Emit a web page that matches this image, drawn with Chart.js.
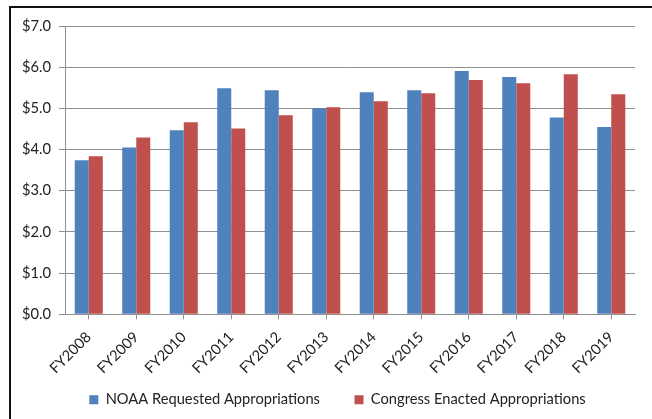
<!DOCTYPE html>
<html>
<head>
<meta charset="utf-8">
<script src="https://cdn.jsdelivr.net/npm/chart.js@4"></script>
<style>
  html, body { margin: 0; padding: 0; background: #fff; }
  #wrap { position: relative; width: 652px; height: 419px; overflow: hidden; }
  #frame { position: absolute; left: 9px; top: 6px; width: 700px; height: 500px;
           border-left: 2px solid #111; border-top: 2px solid #111; }
  canvas { position: absolute; left: 0; top: 0; }
</style>
</head>
<body>
<div id="wrap">
  <div id="frame"></div>
  <canvas id="myChart" width="652" height="419"></canvas>
</div>
<script>
// fiscal years on the x axis
const years = ['FY2008', 'FY2009', 'FY2010', 'FY2011', 'FY2012', 'FY2013',
  'FY2014', 'FY2015', 'FY2016', 'FY2017', 'FY2018', 'FY2019']
// billions of dollars
const requested = [3.74, 4.05, 4.47, 5.49, 5.44, 5.0, 5.39, 5.44, 5.91, 5.76, 4.78, 4.55]
const enacted = [3.84, 4.29, 4.66, 4.51, 4.83, 5.03, 5.17, 5.37, 5.69, 5.61, 5.83, 5.34]
const yTicks = [0, 1, 2, 3, 4, 5, 6, 7]

const font = { family: 'Lato, Liberation Sans, sans-serif', size: 14.7 }
const textColor = '#222'
const gridColor = '#8f8f8f'

// nudge the legend right so it sits where the original has it
const legendShift = {
  id: 'legendShift',
  afterLayout: (chart) => {
    chart.legend.left += 20
    chart.legend.right += 20
  },
}

const data = {
  labels: years,
  datasets: [
    {
      label: 'NOAA Requested Appropriations',
      data: requested,
      backgroundColor: '#4F81BD',
      categoryPercentage: 0.59,
      barPercentage: 1.0,
    },
    {
      label: 'Congress Enacted Appropriations',
      data: enacted,
      backgroundColor: '#C0504D',
      categoryPercentage: 0.59,
      barPercentage: 1.0,
    },
  ],
}

const config = {
  type: 'bar',
  data: data,
  plugins: [legendShift],
  options: {
    responsive: false,
    animation: false,
    layout: { padding: { left: 0, right: 17, top: 26, bottom: 2 } },
    plugins: {
      tooltip: { enabled: false },
      legend: {
        position: 'bottom',
        labels: {
          font: font,
          color: textColor,
          boxWidth: 9,
          boxHeight: 9,
          padding: 12,
          // wider gap between the two entries, like the original
          generateLabels: (chart) => {
            const items = Chart.defaults.plugins.legend.labels.generateLabels(chart)
            items[0].text = items[0].text + '\u00a0'.repeat(6)
            return items
          },
        },
      },
    },
    scales: {
      x: {
        afterFit: (scale) => { scale.height = 66 },
        grid: {
          offset: false,
          drawOnChartArea: false,
          drawTicks: true,
          tickLength: 5,
          color: gridColor,
        },
        border: { color: gridColor },
        ticks: {
          font: font,
          color: textColor,
          minRotation: 45,
          maxRotation: 45,
          padding: 9,
        },
      },
      y: {
        min: 0,
        max: 7,
        afterFit: (scale) => { scale.width = 65 },
        afterBuildTicks: (scale) => {
          scale.ticks = yTicks.map((v) => ({ value: v }))
        },
        grid: { color: gridColor, tickLength: 6 },
        border: { color: gridColor },
        ticks: {
          font: font,
          color: textColor,
          padding: 8,
          callback: (v) => '$' + v.toFixed(1),
        },
      },
    },
  },
}

const myChart = new Chart(document.getElementById('myChart'), config)
</script>
</body>
</html>
